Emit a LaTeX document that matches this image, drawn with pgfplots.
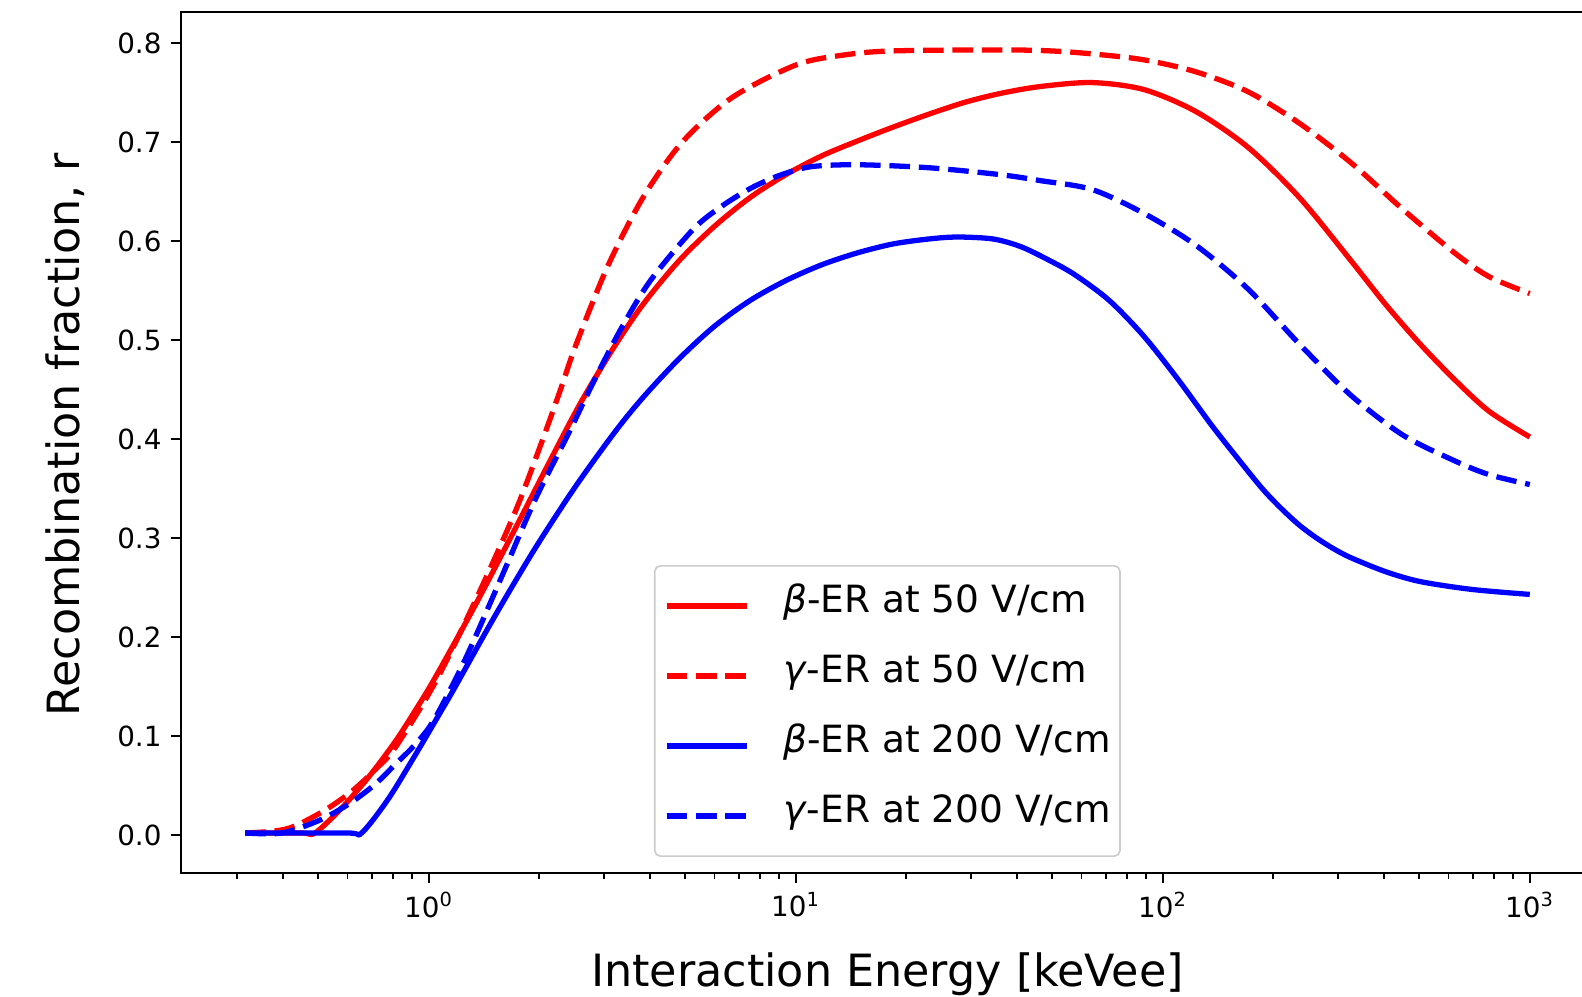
\documentclass[border=0pt]{standalone}
\usepackage{pgfplots}
\pgfplotsset{compat=1.18}
\usepackage{fontspec}
\setmainfont{DejaVu Sans}
\begin{document}
\begin{tikzpicture}
\useasboundingbox (-65.16pt,-44.28pt) rectangle (504.36pt,314.28pt);
\clip (-65.16pt,-44.28pt) rectangle (504.36pt,314.28pt);
\begin{axis}[
  at={(0pt,0pt)}, anchor=south west,
  scale only axis,
  width=508.68pt, height=309.96pt,
  xmode=log, xmin=0.2113, xmax=1496.2,
  ymin=-0.0384, ymax=0.8313,
  axis line style={line width=0.8pt, black},
  tick align=outside,
  xtick pos=bottom, ytick pos=left,
  major tick length=3.5pt, minor tick length=2pt,
  every tick/.style={black, line width=0.8pt},
  minor tick style={line width=0.6pt},
  xtick={1,10,100,1000},
  xticklabels={10\textsuperscript{0},10\textsuperscript{1},10\textsuperscript{2},10\textsuperscript{3}},
  minor xtick={0.3,0.4,0.5,0.6,0.7,0.8,0.9,2,3,4,5,6,7,8,9,20,30,40,50,60,70,80,90,200,300,400,500,600,700,800,900},
  ytick={0,0.1,0.2,0.3,0.4,0.5,0.6,0.7,0.8},
  yticklabel style={/pgf/number format/.cd, fixed, fixed zerofill, precision=1, assume math mode=true},
  ticklabel style={font=\fontsize{10}{12}\selectfont, text=black},
  xlabel={Interaction Energy [keVee]},
  ylabel={Recombination fraction, r},
  label style={font=\fontsize{16}{19}\selectfont},
  xlabel style={at={(axis description cs:0.5,0)}, anchor=base, yshift=-41pt},
  ylabel style={at={(axis description cs:-0.0821,0.509)}, anchor=center, rotate=0},
  legend image code/.code={\draw[#1] (0pt,0pt) -- (29pt,0pt);},
  legend cell align=left,
  legend style={at={(0.3347,0.3577)}, anchor=north west,
    draw=black!20, line width=0.6pt, rounded corners=2pt,
    fill=white, fill opacity=0.8, text opacity=1,
    font=\fontsize{13.5}{16}\selectfont,
    inner xsep=3.3pt, inner ysep=4.8pt,
    row sep=5.9pt, column sep=12pt,
    nodes={inner sep=0pt, text height=10pt, text depth=5.3pt, inner ysep=2pt}},
]
\addplot[red, line width=1.9pt, smooth, line join=round] coordinates {
(0.3162,0.002) (0.45,0.002) (0.4898,0.002) (0.5781,0.027) (0.6839,0.058) (0.8091,0.094)
(0.9162,0.125) (1.0375,0.158) (1.3335,0.231) (1.7179,0.309) (2.1135,0.374)
(2.5704,0.434) (3.1623,0.490) (3.8371,0.536) (4.8084,0.580) (6.0117,0.615)
(7.5162,0.644) (9.3972,0.667) (11.776,0.686) (14.723,0.701) (18.408,0.715)
(23.014,0.728) (28.840,0.740) (36.058,0.749) (46.345,0.756) (64.121,0.760)
(88.716,0.753) (122.74,0.731) (170.22,0.695) (235.50,0.644) (325.84,0.580)
(404.58,0.536) (502.34,0.496) (623.73,0.460) (774.46,0.428) (1000,0.402)
};
\addlegendentry{\textit{β}-ER at 50 V/cm}
\addplot[red, line width=1.9pt, smooth, dash pattern=on 7.4pt off 3.2pt] coordinates {
(0.3162,0.002) (0.3802,0.004) (0.4315,0.009) (0.5212,0.025) (0.6166,0.044)
(0.7145,0.066) (0.8091,0.088) (1.0375,0.153) (1.3335,0.235) (1.7179,0.326)
(2.0091,0.392) (2.2961,0.452) (2.5119,0.494) (3.0690,0.574) (3.8371,0.644)
(4.9091,0.700) (6.7143,0.745) (10.046,0.778) (13.614,0.788) (18.408,0.792) (36.058,0.793)
(49.431,0.792) (64.121,0.789) (88.716,0.783) (122.74,0.771) (170.22,0.751)
(235.50,0.719) (325.84,0.679) (450.82,0.632) (623.73,0.588) (774.46,0.564)
(1000,0.547)
};
\addlegendentry{\textit{γ}-ER at 50 V/cm}
\addplot[blue, line width=1.9pt, smooth, line join=round] coordinates {
(0.3162,0.002) (0.6,0.002) (0.6561,0.002) (0.7745,0.036) (0.9162,0.080)
(1.0839,0.126) (1.1776,0.149) (1.5136,0.221) (1.9454,0.289) (2.5003,0.351)
(3.2137,0.407) (3.8371,0.442) (4.8084,0.481) (6.0117,0.514) (7.5162,0.540)
(9.3972,0.560) (11.776,0.576) (14.723,0.588) (18.408,0.597) (23.014,0.602)
(27.542,0.604) (34.514,0.602) (41.210,0.594) (49.317,0.580) (57.544,0.566)
(71.450,0.540) (88.716,0.504) (110.15,0.460) (137.09,0.412) (170.22,0.368)
(189.67,0.347) (211.35,0.329) (235.50,0.313) (262.42,0.300) (292.42,0.289) (325.84,0.280)
(404.58,0.266) (502.34,0.256) (696.63,0.248) (1000,0.243)
};
\addlegendentry{\textit{β}-ER at 200 V/cm}
\addplot[blue, line width=1.9pt, smooth, dash pattern=on 7.4pt off 3.2pt] coordinates {
(0.3162,0.002) (0.3981,0.002) (0.5047,0.015) (0.6095,0.032) (0.7129,0.051)
(0.8091,0.071) (0.9268,0.093) (1.0399,0.118) (1.2589,0.178) (1.5849,0.262)
(1.9454,0.338) (2.3988,0.405) (2.8314,0.460) (3.3497,0.512) (4.0179,0.560)
(5.2602,0.612) (6.2806,0.635) (7.5162,0.653) (8.9950,0.666) (10.990,0.675)
(14.723,0.677) (23.014,0.674) (36.058,0.667) (46.345,0.661) (64.121,0.652)
(88.716,0.628) (122.74,0.596) (170.22,0.552) (235.50,0.496) (325.84,0.444)
(450.82,0.404) (623.73,0.378) (774.46,0.364) (1000,0.354)
};
\addlegendentry{\textit{γ}-ER at 200 V/cm}
\end{axis}
\end{tikzpicture}
\end{document}
